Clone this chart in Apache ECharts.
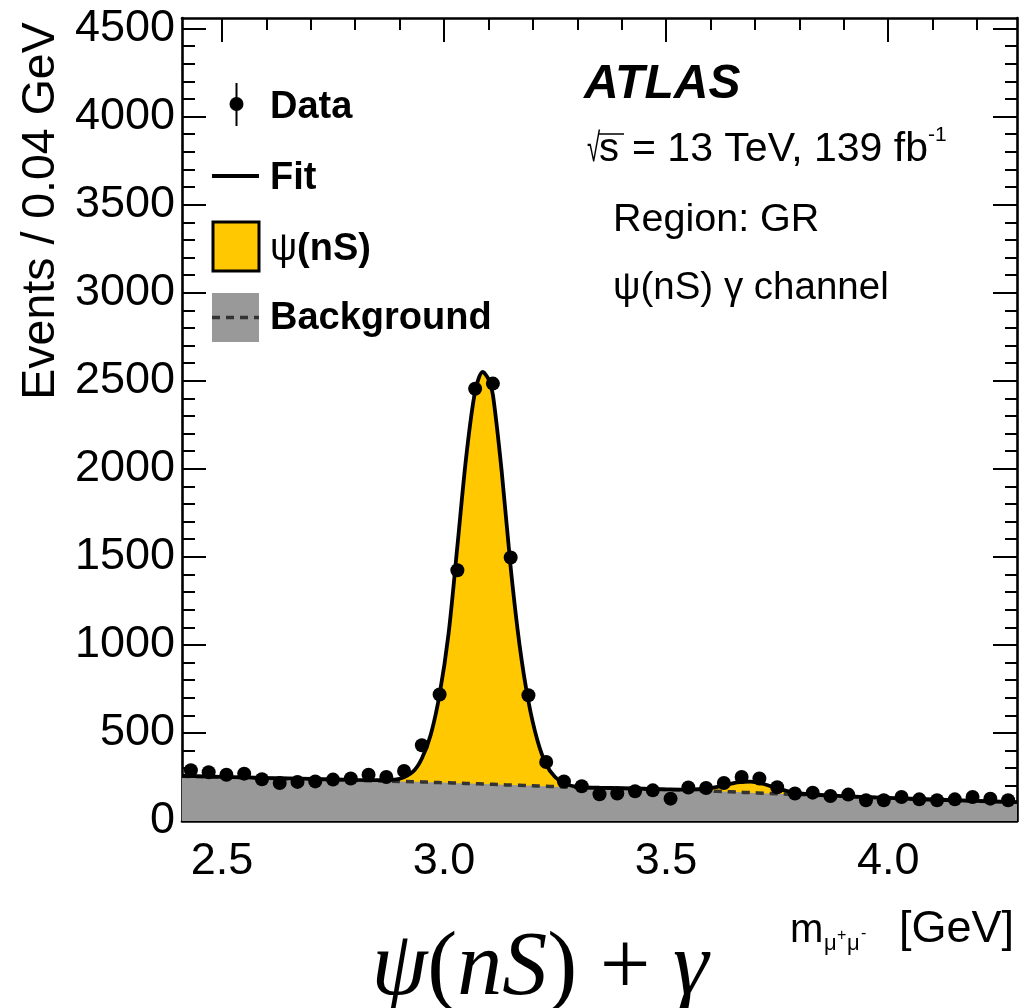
<!DOCTYPE html>
<html><head><meta charset="utf-8">
<script src="https://cdn.jsdelivr.net/npm/echarts@6/dist/echarts.min.js"></script>
<style>html,body{margin:0;padding:0;background:#fff}#c{width:1025px;height:1008px}</style>
</head><body><div id="c"></div>
<script>
// ---- data ----
const binCenters = [2.43,2.47,2.51,2.55,2.59,2.63,2.67,2.71,2.75,2.79,2.83,2.87,2.91,2.95,2.99,3.03,3.07,3.11,3.15,3.19,3.23,3.27,3.31,3.35,3.39,3.43,3.47,3.51,3.55,3.59,3.63,3.67,3.71,3.75,3.79,3.83,3.87,3.91,3.95,3.99,4.03,4.07,4.11,4.15,4.19,4.23,4.27];
const counts = [288,277,263,269,237,216,222,225,235,241,263,250,284,430,718,1424,2455,2484,1496,714,335,224,197,152,156,169,174,127,190,187,216,250,241,192,156,161,142,150,118,118,136,123,118,123,136,127,118];
const curveX = [2.41,2.50,2.60,2.70,2.80,2.86,2.90,2.93,2.95,2.97,2.99,3.01,3.03,3.05,3.07,3.087,3.10,3.11,3.13,3.15,3.17,3.19,3.21,3.23,3.25,3.27,3.30,3.35,3.40,3.45,3.50,3.55,3.60,3.63,3.66,3.69,3.72,3.75,3.78,3.82,3.90,4.00,4.10,4.20,4.29];
const bgCurve = [254,249,243,237,231,227,225,223,222,220,218,217,215,213,212,210,209,208,206,204,203,201,199,197,195,193,191,188,185,182,179,175,170,167,164,161,158,155,152,148,140,130,121,113,106];
const fitCurve = [256,251,245,239,233,232,240,280,355,490,720,1060,1560,2070,2440,2550,2510,2420,1980,1440,1000,680,460,320,250,215,193,189,186,183,180,178,186,202,220,224,210,186,166,152,141,131,122,114,107];
const xMajorTicks = [2.5, 3.0, 3.5, 4.0];
const xMinorTicks = [2.6,2.7,2.8,2.9,3.1,3.2,3.3,3.4,3.6,3.7,3.8,3.9,4.1,4.2];
const yMajorTicks = [0,500,1000,1500,2000,2500,3000,3500,4000,4500];
const yMinorTicks = [100,200,300,400,600,700,800,900,1100,1200,1300,1400,1600,1700,1800,1900,2100,2200,2300,2400,2600,2700,2800,2900,3100,3200,3300,3400,3600,3700,3800,3900,4100,4200,4300,4400];
const xRange = [2.41, 4.29];
const yRange = [0, 4560];

const zip = (a, b) => a.map((v, i) => [v, b[i]]);
const F = '"Liberation Sans", Arial, Helvetica, sans-serif';
const SERIF = '"Liberation Serif", "Times New Roman", serif';

function xAx(pos, ticks, len, labels, showLine) {
  return {
    type: 'value', position: pos, min: xRange[0], max: xRange[1],
    axisLine: { show: showLine, onZero: false, lineStyle: { color: '#000', width: 2.6 } },
    axisTick: { show: true, inside: true, length: len, customValues: ticks, lineStyle: { color: '#000', width: 2 } },
    axisLabel: labels ? { show: true, customValues: ticks, margin: 18, fontSize: 45, fontFamily: F, color: '#000', formatter: v => v.toFixed(1) } : { show: false },
    splitLine: { show: false }
  };
}
function yAx(pos, ticks, len, labels, showLine) {
  return {
    type: 'value', position: pos, min: yRange[0], max: yRange[1],
    axisLine: { show: showLine, onZero: false, lineStyle: { color: '#000', width: 2.6 } },
    axisTick: { show: true, inside: true, length: len, customValues: ticks, lineStyle: { color: '#000', width: 2 } },
    axisLabel: labels ? { show: true, customValues: ticks, margin: 7, fontSize: 45, fontFamily: F, color: '#000', formatter: v => String(v) } : { show: false },
    splitLine: { show: false }
  };
}

const txt = (x, y, text, size, extra, el) => Object.assign({
  type: 'text', x: x, y: y, silent: true,
  style: Object.assign({ text: text, fontSize: size, fontFamily: F, fill: '#000', align: 'left', verticalAlign: 'middle' }, extra || {})
}, el || {});

const chart = echarts.init(document.getElementById('c'), null, { renderer: 'canvas' });
chart.setOption({
  animation: false,
  backgroundColor: '#fff',
  grid: { left: 182, top: 18, width: 835, height: 803, containLabel: false },
  xAxis: [
    xAx('bottom', xMajorTicks, 24, true, true),
    xAx('bottom', xMinorTicks, 12, false, false),
    xAx('top', xMajorTicks, 24, false, true),
    xAx('top', xMinorTicks, 12, false, false)
  ],
  yAxis: [
    yAx('left', yMajorTicks, 24, true, true),
    yAx('left', yMinorTicks, 13, false, false),
    yAx('right', yMajorTicks, 24, false, true),
    yAx('right', yMinorTicks, 12, false, false)
  ],
  series: [
    { name: 'ψ(nS)', type: 'line', data: zip(curveX, fitCurve), smooth: 0.3, symbol: 'none',
      lineStyle: { width: 0 }, areaStyle: { color: '#ffc800', opacity: 1 }, z: 1 },
    { name: 'Background', type: 'line', data: zip(curveX, bgCurve), smooth: 0.3, symbol: 'none',
      lineStyle: { width: 3.5, type: [8, 6], color: '#333333' }, areaStyle: { color: '#999999', opacity: 1 }, z: 2 },
    { name: 'Fit', type: 'line', data: zip(curveX, fitCurve), smooth: 0.3, symbol: 'none',
      lineStyle: { width: 3.8, color: '#000' }, z: 3 },
    { name: 'Data', type: 'scatter', data: zip(binCenters, counts), symbol: 'circle', symbolSize: 14,
      itemStyle: { color: '#000', opacity: 1 }, z: 4 }
  ],
  graphic: [
    // legend
    { type: 'line', shape: { x1: 236.5, y1: 83, x2: 236.5, y2: 126 }, style: { stroke: '#000', lineWidth: 2 } },
    { type: 'circle', shape: { cx: 236.5, cy: 104, r: 7 }, style: { fill: '#000' } },
    { type: 'line', shape: { x1: 212, y1: 176, x2: 259, y2: 176 }, style: { stroke: '#000', lineWidth: 3.8 } },
    { type: 'rect', shape: { x: 213, y: 222, width: 46, height: 49 }, style: { fill: '#ffc800', stroke: '#000', lineWidth: 3 } },
    { type: 'rect', shape: { x: 212, y: 293, width: 47, height: 49 }, style: { fill: '#999999' } },
    { type: 'line', shape: { x1: 212, y1: 317.5, x2: 259, y2: 317.5 }, style: { stroke: '#333333', lineWidth: 3.5, lineDash: [8, 6] } },
    txt(270, 108, 'Data', 38, { fontWeight: 'bold' }),
    txt(270, 179, 'Fit', 38, { fontWeight: 'bold' }),
    txt(270, 250, '{p|ψ}{b|(nS)}', 38, { rich: { p: { fontSize: 38, fontFamily: F, fontWeight: 'normal' }, b: { fontSize: 38, fontFamily: F, fontWeight: 'bold' } } }),
    txt(270, 319, 'Background', 38, { fontWeight: 'bold' }),
    // ATLAS labels
    txt(584, 85, 'ATLAS', 48, { fontWeight: 'bold', fontStyle: 'italic' }),
    txt(587, 150, '√', 40, null, { scaleX: 0.6 }),
    txt(599, 150, 's', 40),
    { type: 'line', shape: { x1: 598, y1: 134, x2: 624, y2: 134 }, style: { stroke: '#000', lineWidth: 1.5 } },
    txt(632, 150, '= 13 TeV, 139 fb', 41),
    txt(928, 135, '-1', 21),
    txt(613, 220, 'Region: GR', 39.5),
    txt(613, 288, 'ψ(nS) γ channel', 38.5),
    // y title
    { type: 'text', x: 41, y: 211, rotation: Math.PI / 2, silent: true,
      style: { text: 'Events / 0.04 GeV', fontSize: 46.5, fontFamily: F, fill: '#000', align: 'center', verticalAlign: 'middle' } },
    // x title
    txt(790, 931, 'm', 40),
    txt(824, 944, 'μ', 22),
    txt(837, 936, '+', 16),
    txt(847, 944, 'μ', 22),
    txt(861, 934, '-', 16),
    txt(899, 930, '[GeV]', 45),
    // big caption
    { type: 'text', x: 540, y: 970, silent: true,
      style: { text: '{i|ψ}{u|(}{i|nS}{u|) + }{i|γ}', align: 'center', verticalAlign: 'middle', fill: '#000',
        rich: { i: { fontSize: 90, fontFamily: SERIF, fontStyle: 'italic' }, u: { fontSize: 90, fontFamily: SERIF } } } }
  ]
});
</script>
</body></html>
